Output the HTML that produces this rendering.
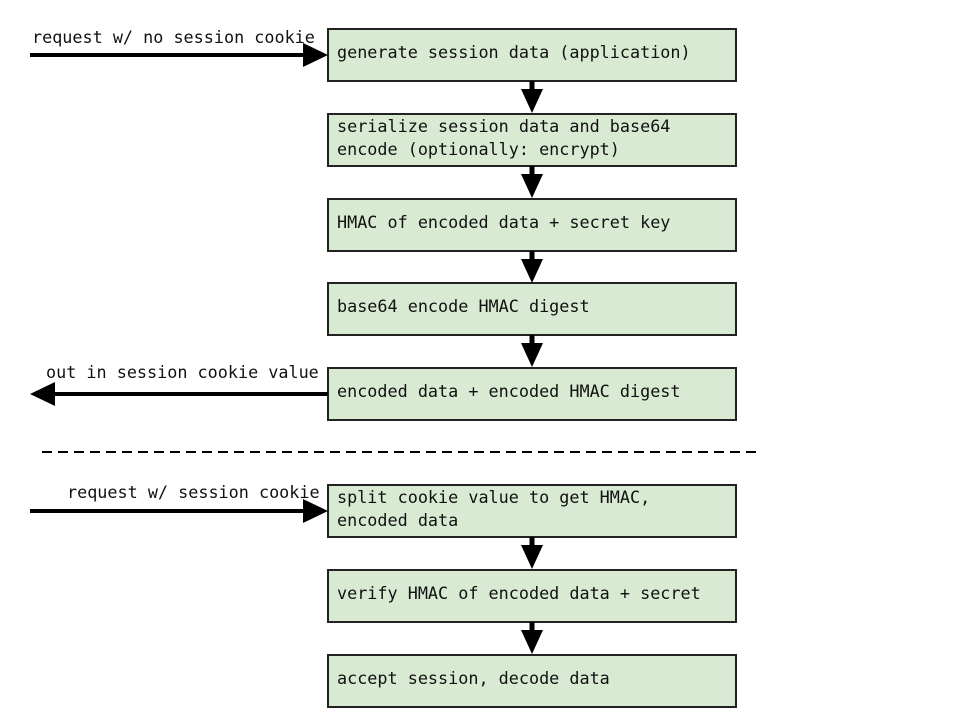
<!DOCTYPE html>
<html><head><meta charset="utf-8"><style>
html,body{margin:0;padding:0;background:#fff;}
svg{display:block;}
text{font-family:"DejaVu Sans Mono","Liberation Mono",monospace;font-size:16.8px;fill:#111;}
</style></head><body>
<svg width="960" height="720" viewBox="0 0 960 720" xmlns="http://www.w3.org/2000/svg">
<g fill="#d9ead3" stroke="#222" stroke-width="2">
<rect x="328" y="29" width="408" height="52"/>
<rect x="328" y="114" width="408" height="52"/>
<rect x="328" y="199" width="408" height="52"/>
<rect x="328" y="283" width="408" height="52"/>
<rect x="328" y="368" width="408" height="52"/>
<rect x="328" y="485" width="408" height="52"/>
<rect x="328" y="570" width="408" height="52"/>
<rect x="328" y="655" width="408" height="52"/>
</g>
<g fill="#000">
<rect x="529.5" y="81" width="5" height="9"/><polygon points="521,89 543,89 532,113"/>
<rect x="529.5" y="166" width="5" height="9"/><polygon points="521,174 543,174 532,198"/>
<rect x="529.5" y="251" width="5" height="9"/><polygon points="521,259 543,259 532,283"/>
<rect x="529.5" y="335" width="5" height="9"/><polygon points="521,343 543,343 532,367"/>
<rect x="529.5" y="537" width="5" height="9"/><polygon points="521,545 543,545 532,569"/>
<rect x="529.5" y="622" width="5" height="9"/><polygon points="521,630 543,630 532,654"/>
<rect x="30" y="53" width="278" height="4"/><polygon points="303,43 328,55 303,67"/>
<rect x="52" y="392" width="276" height="4"/><polygon points="55,382 30,394 55,406"/>
<rect x="30" y="509" width="278" height="4"/><polygon points="303,499 328,511 303,523"/>
</g>
<line x1="42" y1="452" x2="762" y2="452" stroke="#000" stroke-width="2" stroke-dasharray="10,6"/>
<text x="32" y="43">request w/ no session cookie</text>
<text x="46" y="378">out in session cookie value</text>
<text x="67" y="498">request w/ session cookie</text>
<text x="337" y="58">generate session data (application)</text>
<text x="337" y="132">serialize session data and base64</text>
<text x="337" y="155">encode (optionally: encrypt)</text>
<text x="337" y="228">HMAC of encoded data + secret key</text>
<text x="337" y="312">base64 encode HMAC digest</text>
<text x="337" y="397">encoded data + encoded HMAC digest</text>
<text x="337" y="503">split cookie value to get HMAC,</text>
<text x="337" y="526">encoded data</text>
<text x="337" y="599">verify HMAC of encoded data + secret</text>
<text x="337" y="684">accept session, decode data</text>
</svg>
</body></html>
